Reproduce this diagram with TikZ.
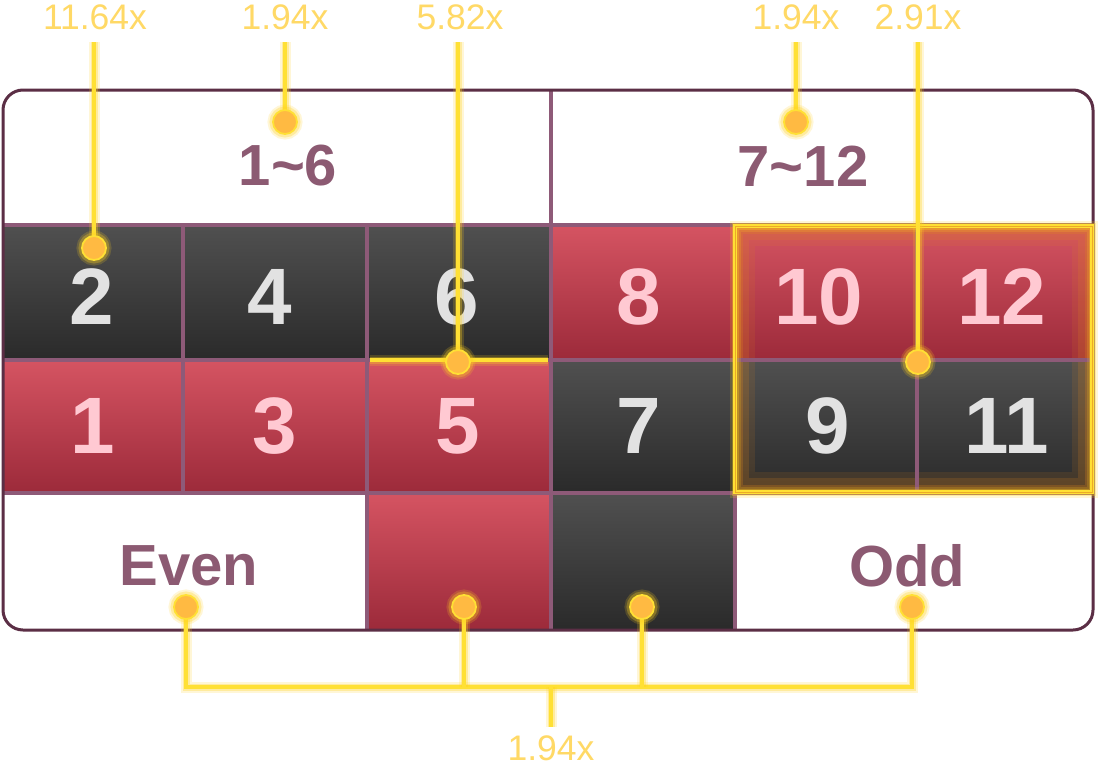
\documentclass[tikz,border=0pt]{standalone}
\usepackage{fontspec}
\setmainfont{Liberation Sans}
\definecolor{bordc}{HTML}{5B2E45}
\definecolor{sepc}{HTML}{8E5A78}
\definecolor{headc}{HTML}{8C5A72}
\definecolor{redtop}{HTML}{D55462}
\definecolor{redbot}{HTML}{9C2A3A}
\definecolor{bktop}{HTML}{505050}
\definecolor{bkbot}{HTML}{2A2A2A}
\definecolor{onblack}{HTML}{E2E2E2}
\definecolor{onred}{HTML}{FFC9D2}
\definecolor{ylc}{HTML}{FFE034}
\definecolor{glowc}{HTML}{FFD21F}
\definecolor{dotc}{HTML}{FFBA42}
\definecolor{labc}{HTML}{FFD966}
\definecolor{hlc}{HTML}{E0861E}
\pgfdeclarelayer{back}
\pgfdeclarelayer{mid}
\pgfsetlayers{back,mid,main}
\begin{document}
\begin{tikzpicture}[x=1pt,y=-1pt,
  sep/.style={draw=sepc, line width=3.5pt},
  redcell/.style={top color=redtop, bottom color=redbot},
  blackcell/.style={top color=bktop, bottom color=bkbot},
  glow/.style={preaction={draw=glowc, line width=11pt, draw opacity=0.18},
               preaction={draw=glowc, line width=7pt, draw opacity=0.3}},
  yline/.style={glow, draw=ylc, line width=3.2pt},
  ydot/.style={circle, fill=dotc, draw=ylc, line width=1.8pt, minimum size=24pt, inner sep=0pt, glow},
  ylab/.style={text=labc, inner sep=0pt, font=\fontsize{35.5}{35.5}\selectfont},
  numb/.style={inner sep=0pt, font=\bfseries\fontsize{80}{80}\selectfont},
  bnum/.style={numb, text=onblack},
  rnum/.style={numb, text=onred},
  big/.style={inner sep=0pt, text=headc, font=\bfseries\fontsize{58}{58}\selectfont}
]
\begin{pgfonlayer}{back}
\fill[white] (0,0) rectangle (1109,769);
\useasboundingbox (0,0) rectangle (1109,769);
% row 1
\shade[blackcell] (3,225) rectangle (183,360);
\shade[blackcell] (183,225) rectangle (367,360);
\shade[blackcell] (367,225) rectangle (551,360);
\shade[redcell] (551,225) rectangle (735,360);
\shade[redcell] (735,225) rectangle (917,360);
\shade[redcell] (917,225) rectangle (1093,360);
% row 2
\shade[redcell] (3,360) rectangle (183,493);
\shade[redcell] (183,360) rectangle (367,493);
\shade[redcell] (367,360) rectangle (551,493);
\shade[blackcell] (551,360) rectangle (735,493);
\shade[blackcell] (735,360) rectangle (917,493);
\shade[blackcell] (917,360) rectangle (1093,493);
% bottom colour cells
\shade[redcell] (367,493) rectangle (551,630);
\shade[blackcell] (551,493) rectangle (735,630);
% inner glow of highlighted block
\begin{scope}
  \clip (735,226) rectangle (1092,492);
  \draw[draw=hlc, line width=40pt, draw opacity=0.12] (735,226) rectangle (1092,492);
  \draw[draw=hlc, line width=28pt, draw opacity=0.18] (735,226) rectangle (1092,492);
  \draw[draw=hlc, line width=15pt, draw opacity=0.25] (735,226) rectangle (1092,492);
\end{scope}
% separators
\draw[sep] (3,225) -- (1093,225);
\draw[sep] (3,360) -- (1093,360);
\draw[sep] (3,493) -- (1093,493);
\draw[sep] (551,90) -- (551,225);
\foreach \xx in {183,367,551,735,917} \draw[sep] (\xx,225) -- (\xx,493);
\foreach \xx in {367,551,735} \draw[sep] (\xx,493) -- (\xx,630);
% border
\draw[draw=bordc, line width=3pt, rounded corners=20pt] (3,90) rectangle (1093,630);
% texts
\node[big] (h1) at (288,166) {1\textasciitilde 6};
\node[big] (h2) at (803,166) {7\textasciitilde 12};
\node[big] (even) at (189,566) {Even};
\node[big] (odd) at (907,566) {Odd};
\node[bnum] (n2) at (92,297) {2};
\node[bnum] (n4) at (270,297) {4};
\node[bnum] (n6) at (457,297) {6};
\node[rnum] (n8) at (639,297) {8};
\node[rnum] (n10) at (819,297) {10};
\node[rnum] (n12) at (1002,297) {12};
\node[rnum] (n1) at (93,426) {1};
\node[rnum] (n3) at (275,426) {3};
\node[rnum] (n5) at (458,426) {5};
\node[bnum] (n7) at (639,426) {7};
\node[bnum] (n9) at (828,426) {9};
\node[bnum] (n11) at (1007,426) {11};
\end{pgfonlayer}

% labels
\node[ylab] (l1) at (95,17) {11.64x};
\node[ylab] (l2) at (285,17) {1.94x};
\node[ylab] (l3) at (460,17) {5.82x};
\node[ylab] (l4) at (796,17) {1.94x};
\node[ylab] (l5) at (918,17) {2.91x};
\node[ylab] (l6) at (551,748) {1.94x};
% dots
\node[ydot] (d1) at (94,248) {};
\node[ydot] (d2) at (285,122) {};
\node[ydot] (d3) at (458,362) {};
\node[ydot] (d4) at (796,122) {};
\node[ydot] (d5) at (918,362) {};
\node[ydot] (d7) at (186,607) {};
\node[ydot] (d8) at (464,607) {};
\node[ydot] (d9) at (642,607) {};
\node[ydot] (d10) at (912,607) {};
% coordinates
\coordinate (t1) at (94,42);
\coordinate (t2) at (285,42);
\coordinate (t3) at (458,42);
\coordinate (t4) at (796,42);
\coordinate (t5) at (918,42);
\coordinate (s5a) at (370,360);
\coordinate (s5b) at (548,360);
\coordinate (j7) at (186,687);
\coordinate (j8) at (464,687);
\coordinate (j9) at (642,687);
\coordinate (j10) at (912,687);
\coordinate (jm) at (551,687);
\coordinate (jb) at (551,727);

\begin{pgfonlayer}{mid}
\draw[yline] (s5a) -- (s5b);
\draw[yline] (735,226) rectangle (1092,492);
\draw[draw=hlc!60!ylc, line width=0.9pt] (735,226) rectangle (1092,492);
\draw[yline] (t1) -- (d1.center);
\draw[yline] (t2) -- (d2.center);
\draw[yline] (t3) -- (d3.center);
\draw[yline] (t4) -- (d4.center);
\draw[yline] (t5) -- (d5.center);
\draw[yline] (d7.center) -- (j7) -- (j10) -- (d10.center);
\draw[yline] (d8.center) -- (j8);
\draw[yline] (d9.center) -- (j9);
\draw[yline] (jm) -- (jb);
\end{pgfonlayer}
\end{tikzpicture}
\end{document}
